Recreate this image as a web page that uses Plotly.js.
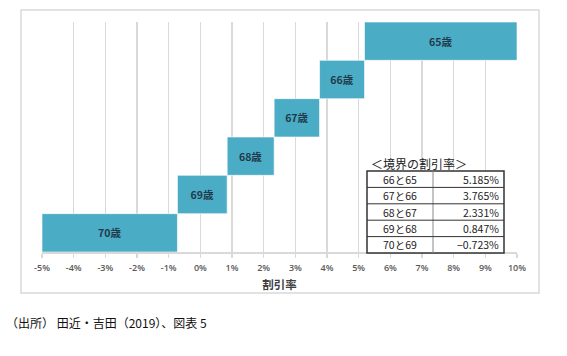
<!DOCTYPE html>
<html><head><meta charset="utf-8">
<script src="https://cdn.plot.ly/plotly-3.0.1.min.js"></script>
<style>html,body{margin:0;padding:0;background:#fff;}</style>
</head><body>
<div id="chart" style="width:567px;height:356px;"></div>
<script>
// ---- data ----
const ages = ["65歳", "66歳", "67歳", "68歳", "69歳", "70歳"];
const barStart = [5.185, 3.765, 2.331, 0.847, -0.723, -5];
const barEnd = [10, 5.185, 3.765, 2.331, 0.847, -0.723];
const pairLabels = ["66と65", "67と66", "68と67", "69と68", "70と69"];
const boundaryRates = [5.185, 3.765, 2.331, 0.847, -0.723];
const tickValues = [-5, -4, -3, -2, -1, 0, 1, 2, 3, 4, 5, 6, 7, 8, 9, 10];
const tickLabels = ["-5%", "-4%", "-3%", "-2%", "-1%", "0%", "1%", "2%", "3%", "4%", "5%", "6%", "7%", "8%", "9%", "10%"];
const tableTitle = "＜境界の割引率＞";
const xTitle = "割引率";
const sourceNote = "（出所） 田近・吉田（2019）、図表 5";

// ---- layout helpers ----
const W = 567, H = 356;
const L = 42, R = 517, T = 22, B = 252;
const px = x => (x - L) / (R - L);
const py = y => (B - y) / (B - T);
const cjk = '"Noto Sans CJK JP", "Noto Sans", sans-serif';

const trace = {
  type: 'bar', orientation: 'h',
  y: ages,
  base: barStart,
  x: barEnd.map((e, i) => e - barStart[i]),
  text: ages,
  textposition: 'inside',
  insidetextanchor: 'middle',
  textangle: 0,
  textfont: {family: cjk, size: 10.5, color: '#1f3a4a', weight: 'bold'},
  marker: {color: '#4bacc6', line: {color: 'rgba(255,255,255,0.6)', width: 1}},
  hoverinfo: 'none',
  cliponaxis: false
};

const shapes = [];
const annotations = [];

// chart outer border
shapes.push({type: 'rect', xref: 'paper', yref: 'paper', layer: 'below',
  x0: px(21), x1: px(539), y0: py(293), y1: py(10),
  line: {color: '#d9d9d9', width: 1.5}, fillcolor: 'rgba(0,0,0,0)'});

// table
const tL = 367, tM = 433, tR = 504, tTop = 171, rowH = 16.4;
const tBot = tTop + rowH * pairLabels.length;
shapes.push({type: 'rect', xref: 'paper', yref: 'paper', layer: 'above',
  x0: px(tL), x1: px(tR), y0: py(tBot), y1: py(tTop),
  line: {color: '#333', width: 1.5}, fillcolor: '#ffffff'});
shapes.push({type: 'line', xref: 'paper', yref: 'paper', layer: 'above',
  x0: px(tM), x1: px(tM), y0: py(tBot), y1: py(tTop),
  line: {color: '#888', width: 1}});
pairLabels.forEach((lab, i) => {
  const yTop = tTop + rowH * i;
  const yc = yTop + rowH / 2;
  if (i > 0) {
    shapes.push({type: 'line', xref: 'paper', yref: 'paper', layer: 'above',
      x0: px(tL), x1: px(tR), y0: py(yTop), y1: py(yTop),
      line: {color: '#333', width: 1}});
  }
  annotations.push({xref: 'paper', yref: 'paper', x: px((tL + tM) / 2), y: py(yc),
    text: lab, showarrow: false, xanchor: 'center', yanchor: 'middle',
    font: {family: cjk, size: 10.5, color: '#222'}});
  const r = boundaryRates[i];
  const rs = (r < 0 ? '−' : '') + Math.abs(r).toFixed(3) + '%';
  annotations.push({xref: 'paper', yref: 'paper', x: px(tR - 3), y: py(yc),
    text: rs, showarrow: false, xanchor: 'right', yanchor: 'middle',
    font: {family: cjk, size: 10.5, color: '#222'}});
});
annotations.push({xref: 'paper', yref: 'paper', x: px(369), y: py(163),
  text: tableTitle, showarrow: false, xanchor: 'left', yanchor: 'middle',
  font: {family: cjk, size: 12, color: '#222'}});

// source note
annotations.push({xref: 'paper', yref: 'paper', x: px(4), y: py(322),
  text: sourceNote, showarrow: false, xanchor: 'left', yanchor: 'middle',
  font: {family: cjk, size: 12, color: '#111'}});

const layout = {
  width: W, height: H,
  margin: {l: L, r: W - R, t: T, b: H - B, pad: 0},
  paper_bgcolor: '#ffffff', plot_bgcolor: '#ffffff',
  showlegend: false,
  bargap: 0,
  font: {family: cjk},
  xaxis: {
    range: [-5, 10], tickvals: tickValues, ticktext: tickLabels,
    showgrid: true, gridcolor: '#d9d9d9', gridwidth: 1.5,
    zeroline: false, showline: true, linecolor: '#d9d9d9', linewidth: 1.5,
    ticks: 'outside', ticklen: 4, tickcolor: '#d9d9d9', tickwidth: 1.5,
    ticklabelstandoff: 3,
    tickfont: {family: '"Open Sans", sans-serif', size: 9, color: '#595959', weight: 600},
    title: {text: xTitle, font: {family: cjk, size: 11.5, color: '#404040', weight: 'bold'}, standoff: 7},
    fixedrange: true
  },
  yaxis: {
    type: 'category', autorange: 'reversed',
    showgrid: false, zeroline: false, showline: false,
    showticklabels: false, ticks: '', fixedrange: true
  },
  shapes: shapes,
  annotations: annotations
};

Plotly.newPlot('chart', [trace], layout, {displayModeBar: false, staticPlot: true});
</script>
</body></html>
